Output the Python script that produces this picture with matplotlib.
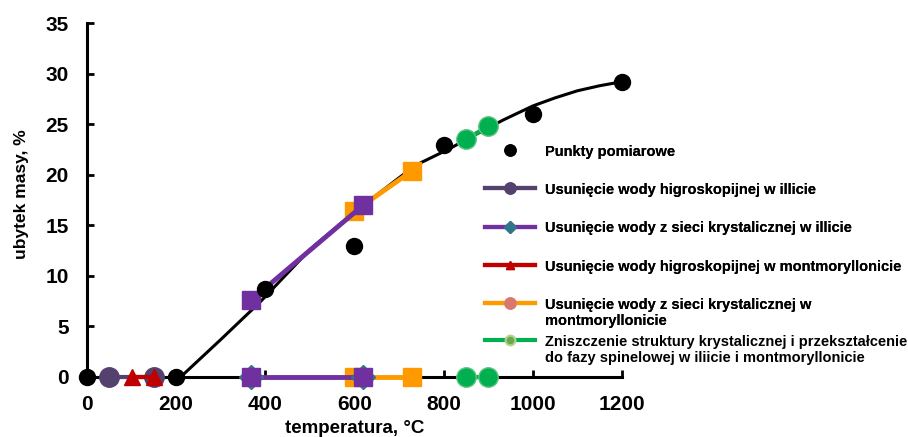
import matplotlib
matplotlib.use('Agg')
from matplotlib import pyplot as plt
from matplotlib.lines import Line2D

plt.rcParams['font.family'] = ['Liberation Sans', 'DejaVu Sans']
plt.rcParams['font.weight'] = 'bold'

# measured points
meas_x = [0, 200, 400, 600, 800, 1000, 1200]
meas_y = [0, 0, 8.7, 13.0, 22.9, 26.0, 29.2]

# trend curve
trend_x = [210, 300, 388, 500, 600, 700, 740, 810, 860, 933, 1000, 1050, 1100, 1150, 1200]
trend_y = [0, 3.7, 7.4, 12.6, 16.3, 19.7, 21.0, 22.5, 23.7, 25.4, 26.8, 27.6, 28.3, 28.8, 29.2]

# stages (temperature ranges) and mass loss
hyg_illite_x = [50, 150]
hyg_illite_y = [0, 0]
cryst_illite_x = [368, 620]
cryst_illite_y0 = [0, 0]
cryst_illite_y = [7.6, 17.0]
hyg_mont_x = [100, 150]
hyg_mont_y = [0, 0]
cryst_mont_x = [600, 730]
cryst_mont_y0 = [0, 0]
cryst_mont_y = [16.4, 20.4]
spinel_x = [850, 900]
spinel_y0 = [0, 0]
spinel_y = [23.5, 24.8]

labels = ['Punkty pomiarowe',
          'Usunięcie wody higroskopijnej w illicie',
          'Usunięcie wody z sieci krystalicznej w illicie',
          'Usunięcie wody higroskopijnej w montmoryllonicie',
          'Usunięcie wody z sieci krystalicznej w\nmontmoryllonicie',
          'Zniszczenie struktury krystalicznej i przekształcenie\ndo fazy spinelowej w iliicie i montmoryllonicie']

c_dpurple = '#55416e'
c_purple = '#7030a0'
c_teal = '#31758a'
c_red = '#c00000'
c_orange = '#ff9900'
c_salmon = '#d9786f'
c_green = '#00b050'

fig = plt.figure(figsize=(9.08, 4.37), dpi=100)
ax = fig.add_axes([0.0958, 0.1373, 0.5892, 0.8100])

ax.plot(trend_x, trend_y, color='black', lw=2.2, zorder=2)

kw = dict(clip_on=False)
# dark purple circles (hygroscopic water, illite)
ax.plot(hyg_illite_x, hyg_illite_y, color=c_dpurple, lw=3, marker='o', ms=14,
        mfc=c_dpurple, mec=c_dpurple, zorder=3, **kw)
# red triangles (hygroscopic water, montmorillonite)
ax.plot(hyg_mont_x, hyg_mont_y, color=c_red, lw=3, marker='^', ms=12,
        mfc=c_red, mec=c_red, zorder=4, **kw)
# orange squares
ax.plot(cryst_mont_x, cryst_mont_y0, color=c_orange, lw=3.5, marker='s', ms=13,
        zorder=3, **kw)
ax.plot(cryst_mont_x, cryst_mont_y, color=c_orange, lw=3.5, marker='s', ms=13,
        zorder=3, **kw)
# purple line with teal diamonds and purple squares
ax.plot(cryst_illite_x, cryst_illite_y0, color=c_purple, lw=3.5, marker='D', ms=12,
        mfc=c_teal, mec=c_teal, zorder=4, **kw)
ax.plot(cryst_illite_x, cryst_illite_y0, ls='none', marker='s', ms=13,
        mfc=c_purple, mec=c_purple, zorder=5, **kw)
ax.plot(cryst_illite_x, cryst_illite_y, color=c_purple, lw=3.5, marker='s', ms=13,
        mfc=c_purple, mec=c_purple, zorder=4, **kw)
# green circles
ax.plot(spinel_x, spinel_y0, color=c_green, lw=3, marker='o', ms=14,
        mfc=c_green, mec='#5cc47e', zorder=3, **kw)
ax.plot(spinel_x, spinel_y, color=c_green, lw=3, marker='o', ms=14,
        mfc=c_green, mec='#5cc47e', zorder=3, **kw)

ax.plot(meas_x, meas_y, ls='none', marker='o', ms=11.5, color='black',
        zorder=6, **kw)

ax.set_xlim(0, 1200)
ax.set_ylim(0, 35)
ax.set_xticks(range(0, 1201, 200))
ax.set_yticks(range(0, 36, 5))
for s in ['top', 'right']:
    ax.spines[s].set_visible(False)
for s in ['left', 'bottom']:
    ax.spines[s].set_linewidth(2.2)
ax.tick_params(direction='in', length=5, width=2, labelsize=15, pad=13)
ax.set_xlabel('temperatura, °C', fontsize=13.5, fontweight='bold', labelpad=4)
ax.set_ylabel('ubytek masy, %', fontsize=12.5, fontweight='bold', labelpad=8)
ax.yaxis.set_label_coords(-0.108, 0.517)

handles = [
    Line2D([], [], ls='none', marker='o', ms=8, color='black'),
    Line2D([], [], color=c_dpurple, lw=3, marker='o', ms=8),
    Line2D([], [], color=c_purple, lw=3, marker='D', ms=6, mfc=c_teal, mec=c_teal),
    Line2D([], [], color=c_red, lw=3, marker='^', ms=6, mfc=c_red, mec=c_red),
    Line2D([], [], color=c_orange, lw=3, marker='o', ms=8, mfc=c_salmon, mec=c_salmon),
    Line2D([], [], color=c_green, lw=3, marker='o', ms=7, mfc='#6aa84f', mec='#b5d28a',
           mew=1.5),
]

leg_kw = dict(loc='upper left', frameon=False, prop={'size': 10.5, 'weight': 'bold'},
              handlelength=3.45, handletextpad=0.7, borderpad=0, borderaxespad=0)
leg1 = fig.legend(handles[:5], labels[:5], bbox_to_anchor=(0.534, 1 - 145 / 437),
                  labelspacing=1.66, **leg_kw)
leg2 = fig.legend(handles[5:], labels[5:], bbox_to_anchor=(0.534, 1 - 335 / 437),
                  **leg_kw)
fig.add_artist(leg1)
# align handles with the first text line, as in the original
for leg in (leg1, leg2):
    for col in leg._legend_handle_box.get_children():
        for row in col.get_children():
            row.align = 'top'

fig.savefig('out.png', dpi=100)
